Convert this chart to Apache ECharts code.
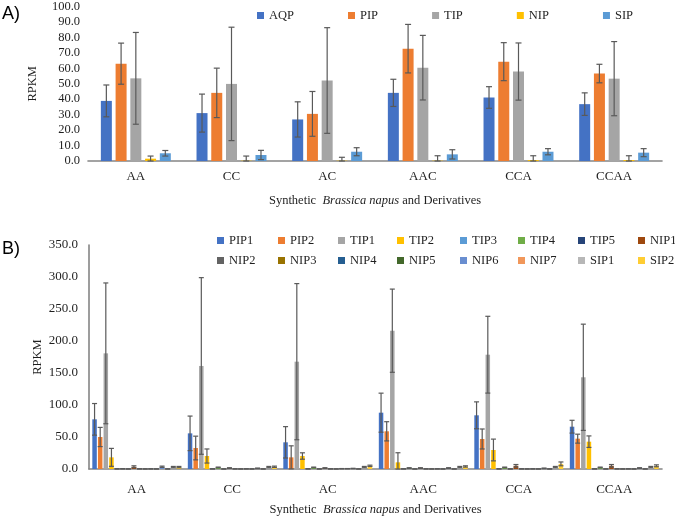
<!DOCTYPE html>
<html><head><meta charset="utf-8">
<script src="https://cdn.jsdelivr.net/npm/echarts@6/dist/echarts.min.js"></script>
<style>html,body{margin:0;padding:0;background:#fff}#c{width:675px;height:517px}</style>
</head><body><div id="c"></div>
<script>
// ---- Panel A data ----
const categories = ['AA', 'CC', 'AC', 'AAC', 'CCA', 'CCAA'];
const seriesA = ['AQP', 'PIP', 'TIP', 'NIP', 'SIP'];
const AQP = [38.9, 31.0, 26.9, 44.1, 41.1, 36.8];
const AQP_err = [10.3, 12.3, 11.4, 8.8, 7.0, 7.3];
const PIP = [63.0, 44.1, 30.5, 72.7, 64.3, 56.6];
const PIP_err = [13.3, 16.0, 14.5, 15.7, 12.3, 6.0];
const TIP = [53.5, 49.9, 52.1, 60.4, 57.9, 53.3];
const TIP_err = [29.7, 36.7, 34.2, 20.9, 18.5, 24.0];
const NIP = [1.5, 0.2, 0.2, 0.2, 0.6, 0.6];
const NIP_err = [1.7, 3.0, 2.2, 3.2, 2.8, 2.8];
const SIP = [5.0, 3.9, 6.0, 4.3, 6.0, 5.4];
const SIP_err = [1.8, 3.0, 2.6, 3.0, 2.0, 2.6];
const ticksA = [0, 100, 10];

// ---- Panel B data ----
const seriesB = ['PIP1','PIP2','TIP1','TIP2','TIP3','TIP4','TIP5','NIP1','NIP2','NIP3','NIP4','NIP5','NIP6','NIP7','SIP1','SIP2'];
const PIP1 = [77.6, 55.7, 41.7, 88.0, 83.9, 66.1];
const PIP1_err = [24.7, 27.0, 24.5, 30.5, 21.0, 10.0];
const PIP2 = [50.0, 32.8, 18.2, 58.9, 46.9, 47.4];
const PIP2_err = [15.0, 18.5, 18.0, 15.0, 15.6, 7.0];
const TIP1 = [180.7, 161.0, 167.7, 216.1, 178.6, 143.3];
const TIP1_err = [110.0, 138.0, 122.0, 65.0, 60.0, 83.0];
const TIP2 = [18.2, 20.3, 20.3, 10.4, 29.7, 42.7];
const TIP2_err = [14.0, 11.0, 5.0, 15.0, 17.0, 9.0];
const TIP3 = [0.2, 0.2, 0.2, 0.2, 0.2, 0.2];
const TIP3_err = [0.2, 0.2, 0.2, 0.2, 0.2, 0.2];
const TIP4 = [0.3, 2.5, 2.5, 1.5, 2.5, 2.5];
const TIP4_err = [0.3, 0.5, 0.5, 0.5, 0.5, 0.5];
const TIP5 = [0.1, 0.1, 0.1, 0.1, 0.1, 0.1];
const TIP5_err = [0.1, 0.1, 0.1, 0.1, 0.1, 0.1];
const NIP1 = [3.5, 1.5, 1.5, 1.5, 5.0, 5.0];
const NIP1_err = [1.5, 0.5, 0.5, 0.5, 2.0, 2.0];
const NIP2 = [0.2, 0.2, 0.2, 0.2, 0.2, 0.2];
const NIP2_err = [0.2, 0.2, 0.2, 0.2, 0.2, 0.2];
const NIP3 = [0.1, 0.1, 0.1, 0.1, 0.1, 0.1];
const NIP3_err = [0.1, 0.1, 0.1, 0.1, 0.1, 0.1];
const NIP4 = [0.2, 0.2, 0.5, 0.2, 0.2, 0.2];
const NIP4_err = [0.2, 0.2, 0.2, 0.2, 0.2, 0.2];
const NIP5 = [0.1, 0.1, 0.5, 0.1, 0.1, 0.1];
const NIP5_err = [0.1, 0.1, 0.2, 0.1, 0.1, 0.1];
const NIP6 = [3.5, 1.0, 0.8, 1.5, 1.0, 1.5];
const NIP6_err = [1.0, 0.5, 0.3, 0.5, 0.5, 0.5];
const NIP7 = [0.1, 0.1, 0.1, 0.1, 0.1, 0.1];
const NIP7_err = [0.1, 0.1, 0.1, 0.1, 0.1, 0.1];
const SIP1 = [3.0, 3.0, 3.0, 3.0, 3.0, 3.0];
const SIP1_err = [1.0, 1.0, 1.0, 1.0, 1.0, 1.0];
const SIP2 = [3.0, 3.5, 5.0, 4.0, 8.0, 5.0];
const SIP2_err = [1.0, 1.0, 1.0, 1.0, 3.0, 1.5];
const ticksB = [0, 350, 50];

const valsA = [AQP, PIP, TIP, NIP, SIP];
const errsA = [AQP_err, PIP_err, TIP_err, NIP_err, SIP_err];
const valsB = [PIP1,PIP2,TIP1,TIP2,TIP3,TIP4,TIP5,NIP1,NIP2,NIP3,NIP4,NIP5,NIP6,NIP7,SIP1,SIP2];
const errsB = [PIP1_err,PIP2_err,TIP1_err,TIP2_err,TIP3_err,TIP4_err,TIP5_err,NIP1_err,NIP2_err,NIP3_err,NIP4_err,NIP5_err,NIP6_err,NIP7_err,SIP1_err,SIP2_err];

const colorsA = ['#4472C4','#ED7D31','#A5A5A5','#FFC000','#5B9BD5'];
const colorsB = ['#4472C4','#ED7D31','#A5A5A5','#FFC000','#5B9BD5','#70AD47','#264478','#9E480E','#636363','#997300','#255E91','#43682B','#698ED0','#F1975A','#B7B7B7','#FFCD33'];

const serif = 'Liberation Serif';
const txt = '#1f1f1f';
const errColor = '#595959';

function errSeries(grid, vals, errs, i, n, bw, gap, capHalf) {
  const pitch = bw * (1 + gap);
  const off = (i - (n - 1) / 2) * pitch;
  return {
    type: 'custom', xAxisIndex: grid, yAxisIndex: grid, z: 5, silent: true,
    data: vals.map((v, k) => [k, v, errs[k]]),
    encode: { x: 0, y: 1 },
    renderItem: function (params, api) {
      const k = api.value(0), v = api.value(1), e = api.value(2);
      const hi = api.coord([k, v + e]);
      const lo = api.coord([k, Math.max(0, v - e)]);
      const cx = hi[0] + off;
      const st = { stroke: errColor, lineWidth: 1.2 };
      return { type: 'group', children: [
        { type: 'line', shape: { x1: cx, y1: hi[1], x2: cx, y2: lo[1] }, style: st },
        { type: 'line', shape: { x1: cx - capHalf, y1: hi[1], x2: cx + capHalf, y2: hi[1] }, style: st },
        { type: 'line', shape: { x1: cx - capHalf, y1: lo[1], x2: cx + capHalf, y2: lo[1] }, style: st }
      ]};
    }
  };
}

const series = [];
seriesA.forEach((name, i) => {
  series.push({ name, type: 'bar', xAxisIndex: 0, yAxisIndex: 0, data: valsA[i],
    barWidth: 11, barGap: '34%', itemStyle: { color: colorsA[i] } });
});
seriesA.forEach((name, i) => series.push(errSeries(0, valsA[i], errsA[i], i, 5, 11, 0.34, 3)));
seriesB.forEach((name, i) => {
  series.push({ name, type: 'bar', xAxisIndex: 1, yAxisIndex: 1, data: valsB[i],
    barWidth: 4.5, barGap: '25%', itemStyle: { color: colorsB[i] } });
});
seriesB.forEach((name, i) => series.push(errSeries(1, valsB[i], errsB[i], i, 16, 4.5, 0.25, 2.5)));

const legendCommon = {
  icon: 'rect', itemWidth: 7, itemHeight: 7, itemGap: 55, padding: 0,
  textStyle: { fontFamily: serif, fontSize: 12.5, color: txt }
};
const legends = [Object.assign({}, legendCommon, { data: seriesA, left: 257, top: 9, orient: 'horizontal', itemGap: 54 })];
const colX = [217, 278, 338, 397, 460, 518, 578, 638];
for (let c = 0; c < 8; c++) {
  legends.push(Object.assign({}, legendCommon, { data: [seriesB[c], seriesB[c + 8]], left: colX[c], top: 234, orient: 'vertical', itemGap: 7 }));
}

const titleRich = {
  n: { fontFamily: serif, fontSize: 12.5, color: txt },
  i: { fontFamily: serif, fontSize: 12.5, color: txt, fontStyle: 'italic' }
};
function xAx(grid, margin, nameGap) {
  return { type: 'category', gridIndex: grid, data: categories,
    axisLine: { lineStyle: { color: '#858585', width: 1.6 } }, axisTick: { show: false },
    axisLabel: { fontFamily: serif, fontSize: 13, color: txt, margin },
    name: '{n|Synthetic  }{i|Brassica napus}{n| and Derivatives}', nameLocation: 'middle', nameGap,
    nameMoveOverlap: false,
    nameTextStyle: { rich: titleRich } };
}
function yAx(grid, t, showLine, margin, nameGap, fs) {
  return { type: 'value', gridIndex: grid, min: t[0], max: t[1], interval: t[2],
    axisLine: { show: showLine, lineStyle: { color: '#858585', width: 1.6 } }, axisTick: { show: false },
    splitLine: { show: false },
    axisLabel: { fontFamily: serif, fontSize: fs, color: txt, margin, formatter: v => v.toFixed(1) },
    name: 'RPKM', nameLocation: 'middle', nameGap, nameRotate: 90, nameMoveOverlap: false,
    nameTextStyle: { fontFamily: serif, fontSize: 12.5, color: txt } };
}

const chart = echarts.init(document.getElementById('c'), null, { renderer: 'canvas' });
chart.setOption({
  animation: false,
  backgroundColor: '#fff',
  legend: legends,
  grid: [
    { left: 88, right: 13, top: 6, height: 155 },
    { left: 89, right: 13, top: 245, height: 224 }
  ],
  xAxis: [xAx(0, 9, 33), xAx(1, 14, 34)],
  yAxis: [yAx(0, ticksA, false, 8, 49, 12.5), yAx(1, ticksB, true, 11, 45, 13)],
  graphic: [
    { type: 'text', left: 2, top: 5, style: { text: 'A)', font: '18px "Liberation Sans"', fill: '#000' } },
    { type: 'text', left: 2, top: 240, style: { text: 'B)', font: '18px "Liberation Sans"', fill: '#000' } }
  ],
  series
});
</script></body></html>
